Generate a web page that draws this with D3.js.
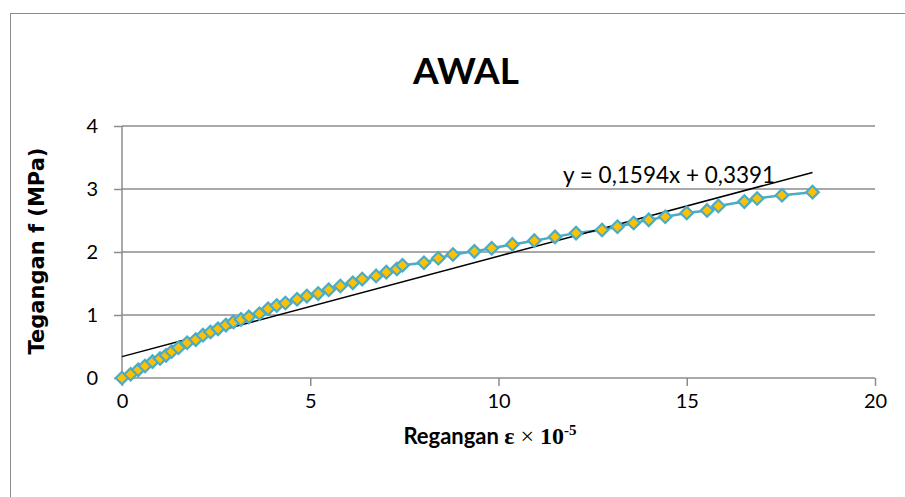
<!DOCTYPE html>
<html>
<head>
	<meta charset="utf-8">
	<title>AWAL</title>
	<script src="https://cdn.jsdelivr.net/npm/d3@7"></script>
	<style>
		body { margin: 0; background: #fff; }
		svg { display: block; }
	</style>
</head>
<body>
	<div id="chart"></div>
	<script type="text/javascript">
		// regangan (x 10^-5) and tegangan (MPa)
		var strain = [0, 0.23, 0.43, 0.61, 0.81, 1.01, 1.17, 1.32, 1.5, 1.73, 1.96, 2.15, 2.35, 2.55,
			2.76, 2.96, 3.16, 3.37, 3.65, 3.88, 4.11, 4.34, 4.65, 4.91, 5.21, 5.49, 5.8, 6.13, 6.38,
			6.75, 7.02, 7.3, 7.45, 8.02, 8.4, 8.79, 9.36, 9.82, 10.37, 10.95, 11.5, 12.06, 12.75,
			13.16, 13.59, 13.99, 14.43, 15.0, 15.54, 15.84, 16.53, 16.87, 17.53, 18.34];
		var stress = [0, 0.06, 0.13, 0.19, 0.26, 0.31, 0.36, 0.42, 0.48, 0.56, 0.61, 0.68, 0.73, 0.78,
			0.84, 0.89, 0.93, 0.97, 1.02, 1.10, 1.15, 1.19, 1.25, 1.30, 1.34, 1.40, 1.46, 1.51, 1.57,
			1.62, 1.68, 1.73, 1.79, 1.83, 1.90, 1.96, 2.01, 2.06, 2.12, 2.18, 2.24, 2.30, 2.35,
			2.40, 2.46, 2.51, 2.56, 2.62, 2.66, 2.73, 2.80, 2.85, 2.90, 2.95];
		var trend = [0.1594, 0.3391]; // slope, intercept
		var xTicks = [0, 5, 10, 15, 20];
		var yTicks = [0, 1, 2, 3, 4];

		var W = 905, H = 497;
		var m = { left: 122, right: 875, top: 126, bottom: 378 };
		var sansFont = "Lato, 'Open Sans', sans-serif";
		var serifFont = "'Liberation Serif', 'DejaVu Serif', serif";

		var svg = d3.select("#chart").append("svg")
			.attr("width", W).attr("height", H);

		// outer chart border
		svg.append("rect")
			.attr("x", 10.5).attr("y", 13.5)
			.attr("width", 900).attr("height", 500)
			.attr("fill", "none").attr("stroke", "#8c8c8c").attr("stroke-width", 1);

		var x = d3.scaleLinear().domain([0, 20]).range([m.left, m.right]);
		var y = d3.scaleLinear().domain([0, 4]).range([m.bottom, m.top]);

		// gridlines
		svg.append("g").selectAll("line")
			.data(yTicks.slice(1))
			.enter().append("line")
			.attr("x1", m.left).attr("x2", m.right)
			.attr("y1", function(d) { return y(d); })
			.attr("y2", function(d) { return y(d); })
			.attr("stroke", "#8c8c8c").attr("stroke-width", 1.5);

		var xAxis = svg.append("g")
			.attr("transform", "translate(0," + m.bottom + ")")
			.call(d3.axisBottom(x).tickValues(xTicks).tickFormat(d3.format("d")).tickSize(8).tickPadding(8));
		var yAxis = svg.append("g")
			.attr("transform", "translate(" + m.left + ",0)")
			.call(d3.axisLeft(y).tickValues(yTicks).tickFormat(d3.format("d")).tickSize(8).tickPadding(16));

		[xAxis, yAxis].forEach(function(g) {
			g.attr("font-size", null).attr("font-family", null);
			g.select(".domain").attr("stroke", "#8c8c8c").attr("stroke-width", 1.5);
			g.selectAll(".tick line").attr("stroke", "#8c8c8c").attr("stroke-width", 1.5);
			g.selectAll(".tick text")
				.attr("fill", "#000")
				.style("font-family", sansFont)
				.style("font-size", "20px");
		});
		xAxis.select(".domain").attr("d", "M" + m.left + ",0H" + m.right);
		yAxis.select(".domain").attr("d", "M0," + m.top + "V" + m.bottom);

		var pts = strain.map(function(d, i) { return [d, stress[i]]; });

		// series line
		svg.append("path")
			.datum(pts)
			.attr("fill", "none")
			.attr("stroke", "#4bacc6")
			.attr("stroke-width", 2.5)
			.attr("d", d3.line()
				.x(function(d) { return x(d[0]); })
				.y(function(d) { return y(d[1]); }));

		// linear trendline
		var xEnd = d3.max(strain);
		svg.append("line")
			.attr("x1", x(0)).attr("y1", y(trend[1]))
			.attr("x2", x(xEnd)).attr("y2", y(trend[0] * xEnd + trend[1]))
			.attr("stroke", "#000").attr("stroke-width", 1.5);

		// diamond markers
		var diamond = d3.symbol().type(d3.symbolDiamond2).size(100);
		svg.append("g").selectAll("path")
			.data(pts)
			.enter().append("path")
			.attr("transform", function(d) { return "translate(" + x(d[0]) + "," + y(d[1]) + ")"; })
			.attr("d", diamond)
			.attr("fill", "#ffc000")
			.attr("stroke", "#4bacc6")
			.attr("stroke-width", 2.2);

		// trendline equation
		svg.append("text")
			.attr("x", 563).attr("y", 183)
			.style("font-family", sansFont)
			.style("font-size", "22.5px")
			.text("y = 0,1594x + 0,3391");

		// title
		svg.append("text")
			.attr("x", 466).attr("y", 84)
			.attr("text-anchor", "middle")
			.style("font-family", sansFont)
			.style("font-weight", "bold")
			.style("font-size", "37px")
			.text("AWAL");

		// y axis title
		svg.append("text")
			.attr("transform", "translate(44,251) rotate(-90)")
			.attr("text-anchor", "middle")
			.style("font-family", "'DejaVu Sans', sans-serif")
			.style("font-weight", "bold")
			.style("font-size", "21px")
			.text("Tegangan f (MPa)");

		// x axis title
		var xt = svg.append("text")
			.attr("x", 490).attr("y", 444)
			.attr("text-anchor", "middle")
			.style("font-weight", "bold")
			.style("font-size", "22px");
		xt.append("tspan").style("font-family", sansFont).text("Regangan ");
		xt.append("tspan").style("font-family", serifFont).style("font-size", "24px").text("ε");
		xt.append("tspan").style("font-family", serifFont).style("font-size", "24px").style("font-weight", "normal").text(" × ");
		xt.append("tspan").style("font-family", serifFont).style("font-size", "24px").text("10");
		xt.append("tspan").style("font-family", serifFont)
			.attr("dy", -9).style("font-size", "15px").text("-5");
	</script>
</body>
</html>
